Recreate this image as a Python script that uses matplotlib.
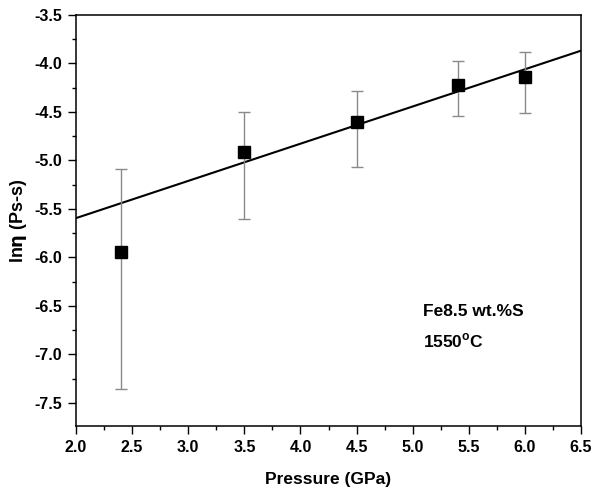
import numpy as np
import matplotlib
matplotlib.use('Agg')
import matplotlib.pyplot as plt
from matplotlib.ticker import MultipleLocator

plt.rcParams['font.family'] = ['Liberation Sans', 'DejaVu Sans']
plt.rcParams['font.weight'] = 'bold'
plt.rcParams['mathtext.fontset'] = 'dejavusans'

# data
pressure = [2.4, 3.5, 4.5, 5.4, 6.0]
ln_eta = [-5.95, -4.91, -4.60, -4.22, -4.14]
err_up = [-5.09, -4.50, -4.28, -3.975, -3.88]
err_low = [-7.36, -5.60, -5.07, -4.545, -4.51]

# linear fit line
fit_slope = 0.3838
fit_intercept = -6.363

fig = plt.figure(figsize=(5.92, 4.93), dpi=100)
ax = fig.add_axes([0.1284, 0.1359, 0.8530, 0.8337])

x = np.array(pressure)
y = np.array(ln_eta)
yerr = [y - np.array(err_low), np.array(err_up) - y]

xl = np.array([2.0, 6.5])
ax.plot(xl, fit_slope * xl + fit_intercept, color='black', lw=1.5, zorder=2)

ax.errorbar(x, y, yerr=yerr, fmt='none', ecolor='#8a8a8a', elinewidth=1,
            capsize=4, capthick=1, zorder=3)
ax.plot(x, y, 's', color='black', markersize=9, zorder=4)

ax.set_xlim(2.0, 6.5)
ax.set_ylim(-7.74, -3.5)
ax.xaxis.set_major_locator(MultipleLocator(0.5))
ax.xaxis.set_minor_locator(MultipleLocator(0.25))
ax.yaxis.set_major_locator(MultipleLocator(0.5))
ax.yaxis.set_minor_locator(MultipleLocator(0.25))
ax.xaxis.set_major_formatter(matplotlib.ticker.FormatStrFormatter('%.1f'))
ax.yaxis.set_major_formatter(matplotlib.ticker.FormatStrFormatter('%.1f'))

ax.tick_params(which='major', direction='out', length=6, width=1, labelsize=11.5, pad=4)
ax.tick_params(which='minor', direction='out', length=3, width=1)
for s in ax.spines.values():
    s.set_linewidth(1.1)

ax.set_xlabel('Pressure (GPa)', fontsize=12.5, fontweight='bold', labelpad=12)
ax.set_ylabel(r'ln$\mathrm{\eta}$ (Ps-s)', fontsize=13, fontweight='bold', labelpad=4)

ax.text(5.09, -6.56, 'Fe8.5 wt.%S', fontsize=12.5, fontweight='bold', va='center')
ax.text(5.09, -6.86, r'1550$^\mathregular{o}$C', fontsize=12.5, fontweight='bold', va='center')

fig.savefig('out.png', dpi=100)
